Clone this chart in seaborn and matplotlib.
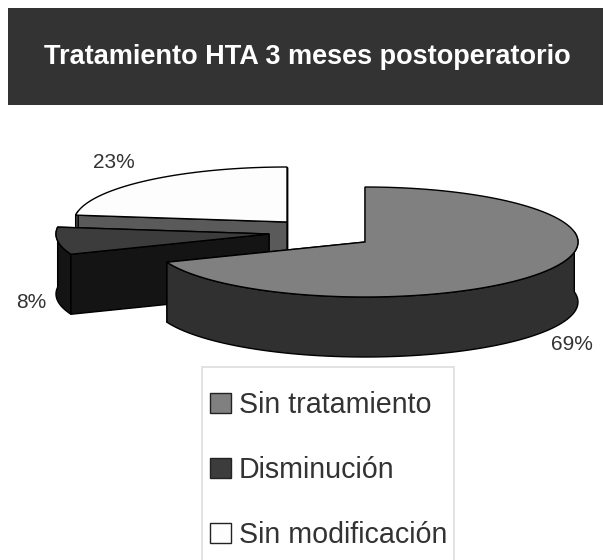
import numpy as np
import seaborn as sns
import matplotlib.pyplot as plt
from matplotlib.patches import Polygon, Rectangle, Patch

# values
categories = ['Sin tratamiento', 'Disminución', 'Sin modificación']
percents = [69, 8, 23]
percent_labels = ['69%', '8%', '23%']
top_colors = ['#808080', '#3c3c3c', '#fdfdfd']
side_colors = ['#303030', '#141414', '#5a5a5a']

title = 'Tratamiento HTA 3 meses postoperatorio'

# pie geometry in pixels
RX, RY, DEPTH = 213, 55, 60
centers = [(365, 242), (269, 234), (287, 222)]
label_pos = [(572, 344), (31, 303), (114, 162)]


def rim(center, start, end, depth=0):
    """Points on the ellipse, angles are clockwise from 12 o'clock."""
    t = np.radians(np.linspace(start, end, 120))
    return np.column_stack([center[0] + RX * np.sin(t),
                            center[1] - RY * np.cos(t) + depth])


def cut_face(ax, center, angle, color):
    cx, cy = center
    edge = rim(center, angle, angle)[0]
    ax.add_patch(Polygon([(cx, cy), edge, edge + (0, DEPTH), (cx, cy + DEPTH)],
                         facecolor=color, edgecolor='black', linewidth=1.0))


def draw_slice(ax, center, start, end, top, side):
    # a radius pointing away from the viewer goes behind the wall
    start_is_back = np.cos(np.radians(start)) > 0
    cut_face(ax, center, end, side)
    if start_is_back:
        cut_face(ax, center, start, side)
    upper = rim(center, start, end)
    lower = rim(center, start, end, DEPTH)
    # outer wall, only the part turned towards the viewer
    visible = upper[:, 1] >= center[1] - RY * 0.2
    if visible.any():
        ax.add_patch(Polygon(np.vstack([upper[visible], lower[visible][::-1]]),
                             facecolor=side, edgecolor='black', linewidth=1.0))
    if not start_is_back:
        cut_face(ax, center, start, side)
    ax.add_patch(Polygon(np.vstack([[center], upper]), facecolor=top, edgecolor='black', linewidth=1.0))


def main():
    sns.set_theme(style='white')
    plt.rcParams['font.family'] = ['Liberation Sans', 'DejaVu Sans']

    fig = plt.figure(figsize=(6.03, 5.60), dpi=100)
    ax = fig.add_axes([0, 0, 1, 1])
    ax.set_xlim(0, 603)
    ax.set_ylim(560, 0)
    ax.axis('off')

    # title band
    ax.add_patch(Rectangle((8, 8), 595, 97, facecolor='#333333', edgecolor='none'))
    ax.text(307, 57, title, color='white', fontsize=19.5, fontweight='bold', ha='center', va='center')

    # slice angles come from the values
    ends = np.cumsum(percents) * 3.6
    starts = ends - np.array(percents) * 3.6

    # back to front
    for i in [2, 1, 0]:
        draw_slice(ax, centers[i], starts[i], ends[i], top_colors[i], side_colors[i])

    for txt, (x, y) in zip(percent_labels, label_pos):
        ax.text(x, y, txt, color='#333333', fontsize=15, ha='center', va='center')

    # legend
    ax.add_patch(Rectangle((202, 367), 252, 200, facecolor='white', edgecolor='#dddddd', linewidth=1.2))
    handles = [Patch(facecolor=c, edgecolor='#222222', linewidth=1.0) for c in top_colors]
    ax.legend(handles, categories, loc='upper left', bbox_to_anchor=(210, 391),
              bbox_transform=ax.transData, frameon=False, fontsize=20.6, labelcolor='#333333',
              handlelength=0.72, handleheight=0.72, handletextpad=0.28, labelspacing=1.29,
              borderpad=0, borderaxespad=0)

    plt.savefig('out.png', dpi=100)


if __name__ == '__main__':
    main()
